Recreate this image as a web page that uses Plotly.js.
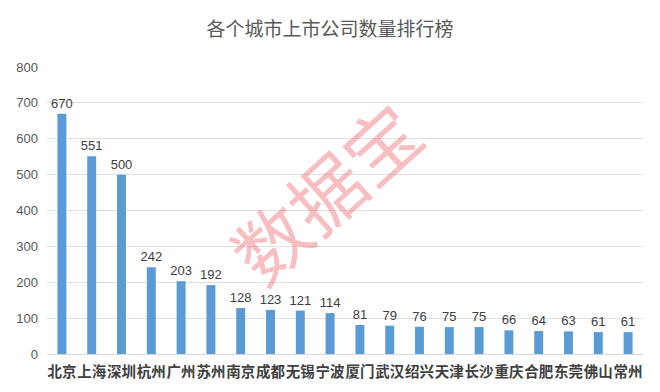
<!DOCTYPE html>
<html><head><meta charset="utf-8">
<script src="https://cdn.plot.ly/plotly-3.0.1.min.js"></script>
<style>html,body{margin:0;padding:0;background:#fff;}#c{width:660px;height:392px;}</style>
</head><body><div id="c"></div>
<script>
const cities = ["北京","上海","深圳","杭州","广州","苏州","南京","成都","无锡","宁波","厦门","武汉","绍兴","天津","长沙","重庆","合肥","东莞","佛山","常州"];
const counts = [670,551,500,242,203,192,128,123,121,114,81,79,76,75,75,66,64,63,61,61];
const yTicks = [0,100,200,300,400,500,600,700,800];

const trace = {
  type: 'bar', x: cities, y: counts,
  marker: {color: '#5b9bd5'},
  text: counts.map(String), textposition: 'outside', cliponaxis: false, constraintext: 'none',
  textfont: {family: 'Liberation Sans, Arial, sans-serif', size: 13, color: '#404040'},
  hoverinfo: 'none'
};
const layout = {
  width: 660, height: 392,
  margin: {l: 47, r: 17, t: 67, b: 38},
  paper_bgcolor: '#fff', plot_bgcolor: '#fff',
  bargap: 0.7,
  showlegend: false,
  title: {text: '各个城市上市公司数量排行榜', x: 0.5, xanchor: 'center', y: 0.925, yanchor: 'middle',
    font: {family: 'Noto Sans CJK SC', size: 19, color: '#595959'}},
  xaxis: {type: 'category', showgrid: false, showline: true, linecolor: '#d9d9d9', linewidth: 1,
    tickangle: 0, automargin: false, ticklabelstandoff: 5,
    ticks: '', tickfont: {family: 'Noto Sans CJK SC', size: 14.5, color: '#404040', weight: 'bold'}, fixedrange: true},
  yaxis: {range: [0, 800], tickvals: yTicks, ticktext: yTicks.map(String), showgrid: true, gridcolor: '#e0e0e0', gridwidth: 1,
    zeroline: false, showline: false, ticks: '', ticklen: 0, ticklabelstandoff: 8,
    tickfont: {family: 'Liberation Sans, Arial, sans-serif', size: 13, color: '#595959'}, fixedrange: true},
  annotations: [{text: '数据宝', xref: 'paper', yref: 'paper', x: 0.465, y: 0.57, showarrow: false, textangle: -42,
    font: {family: 'Noto Sans CJK SC', size: 74, color: 'rgba(240,110,120,0.45)'}}]
};
Plotly.newPlot('c', [trace], layout, {displayModeBar: false, staticPlot: true});
</script></body></html>
